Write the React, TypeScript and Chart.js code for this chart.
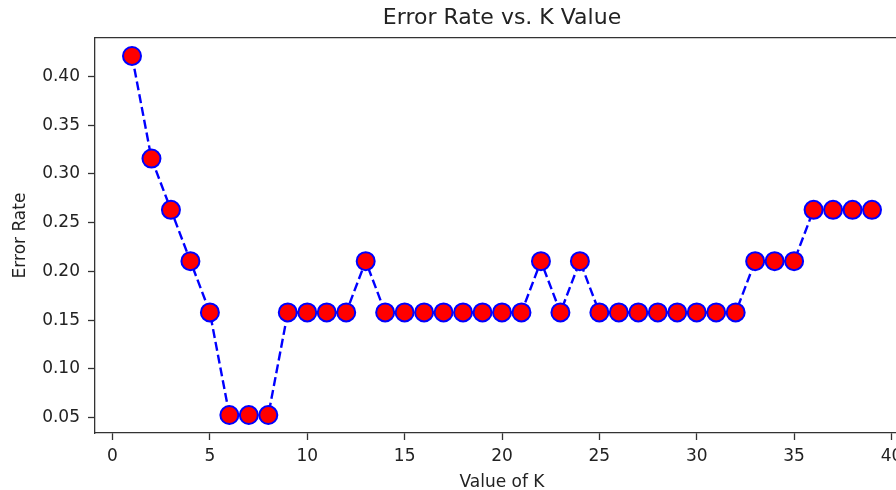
import React, { useEffect, useRef } from "react";
import { Chart, registerables } from "chart.js";

Chart.register(...registerables);

const kValues = [
  1, 2, 3, 4, 5, 6, 7, 8, 9, 10, 11, 12, 13, 14, 15, 16, 17, 18, 19, 20,
  21, 22, 23, 24, 25, 26, 27, 28, 29, 30, 31, 32, 33, 34, 35, 36, 37, 38, 39,
];
const errorRates = [
  0.4211, 0.3158, 0.2632, 0.2105, 0.1579, 0.0526, 0.0526, 0.0526, 0.1579,
  0.1579, 0.1579, 0.1579, 0.2105, 0.1579, 0.1579, 0.1579, 0.1579, 0.1579,
  0.1579, 0.1579, 0.1579, 0.2105, 0.1579, 0.2105, 0.1579, 0.1579, 0.1579,
  0.1579, 0.1579, 0.1579, 0.1579, 0.1579, 0.2105, 0.2105, 0.2105, 0.2632,
  0.2632, 0.2632, 0.2632,
];
const xTickStep = 5;
const yTickStep = 0.05;
const chartTitle = "Error Rate vs. K Value";
const xLabel = "Value of K";
const yLabel = "Error Rate";

const FONT = "'DejaVu Sans', sans-serif";
const TEXT = "#222";
const AXIS = "#333";

export default function App() {
  const ref = useRef<HTMLCanvasElement | null>(null);

  useEffect(() => {
    if (!ref.current) return;
    const xMinData = Math.min(...kValues);
    const xMaxData = Math.max(...kValues);
    const yMinData = Math.min(...errorRates);
    const yMaxData = Math.max(...errorRates);
    const xm = (xMaxData - xMinData) * 0.05;
    const ym = (yMaxData - yMinData) * 0.05;
    const xMin = xMinData - xm;
    const xMax = xMaxData + xm;

    const chart = new Chart(ref.current, {
      type: "line",
      data: {
        datasets: [
          {
            data: kValues.map((k, i) => ({ x: k, y: errorRates[i] })),
            borderColor: "#0000ff",
            borderWidth: 2.4,
            borderDash: [9, 4],
            backgroundColor: "#ff0000",
            pointBackgroundColor: "#ff0000",
            pointBorderColor: "#0000ff",
            pointBorderWidth: 2,
            pointRadius: 9,
            pointHoverRadius: 9,
            fill: false,
            tension: 0,
          },
        ],
      },
      options: {
        responsive: false,
        animation: false,
        events: [],
        layout: { padding: { left: 0, top: 0, right: 21, bottom: 0 } },
        plugins: {
          legend: { display: false },
          tooltip: { enabled: false },
          title: { display: false },
        },
        scales: {
          x: {
            type: "linear",
            position: "bottom",
            min: xMin,
            max: xMax,
            grid: {
              display: true,
              drawOnChartArea: false,
              drawTicks: true,
              tickLength: 7,
              tickWidth: 1.3,
              tickColor: AXIS,
            },
            border: { display: true, color: AXIS, width: 1.3 },
            ticks: {
              stepSize: xTickStep,
              includeBounds: false,
              color: TEXT,
              font: { family: FONT, size: 17 },
              padding: 6,
              maxRotation: 0,
              autoSkip: false,
              callback: (v: any) => String(v),
            },
            title: {
              display: true,
              text: xLabel,
              color: TEXT,
              font: { family: FONT, size: 17 },
              padding: { top: 0, bottom: -3 },
            },
            afterFit: (s: any) => {
              s.height = 57;
              s.paddingLeft = 0;
              s.paddingRight = 0;
            },
          },
          x2: {
            type: "linear",
            position: "top",
            min: xMin,
            max: xMax,
            grid: { display: false, drawTicks: false },
            border: { display: true, color: AXIS, width: 1.3 },
            ticks: { display: false },
            title: {
              display: true,
              text: chartTitle,
              color: TEXT,
              font: { family: FONT, size: 22 },
              padding: { top: 5, bottom: 0 },
            },
            afterFit: (s: any) => {
              s.height = 38;
              s.paddingLeft = 0;
              s.paddingRight = 0;
            },
          },
          y: {
            type: "linear",
            position: "left",
            min: yMinData - ym,
            max: yMaxData + ym,
            grid: {
              display: true,
              drawOnChartArea: false,
              drawTicks: true,
              tickLength: 7,
              tickWidth: 1.3,
              tickColor: AXIS,
            },
            border: { display: true, color: AXIS, width: 1.3 },
            ticks: {
              stepSize: yTickStep,
              includeBounds: false,
              color: TEXT,
              font: { family: FONT, size: 17 },
              padding: 8,
              autoSkip: false,
              callback: (v: any) => Number(v).toFixed(2),
            },
            title: {
              display: true,
              text: yLabel,
              color: TEXT,
              font: { family: FONT, size: 17 },
              padding: { top: 10, bottom: 0 },
            },
            afterFit: (s: any) => {
              s.width = 95;
              s.paddingTop = 0;
              s.paddingBottom = 0;
            },
          },
        },
      },
    });
    return () => chart.destroy();
  }, []);

  return (
    <div
      style={{
        position: "fixed",
        left: 0,
        top: 0,
        width: 896,
        height: 490,
        overflow: "hidden",
        background: "#fff",
      }}
    >
      <canvas
        ref={ref}
        width={930}
        height={490}
        style={{ position: "absolute", left: 0, top: 0, width: 930, height: 490 }}
      />
    </div>
  );
}
